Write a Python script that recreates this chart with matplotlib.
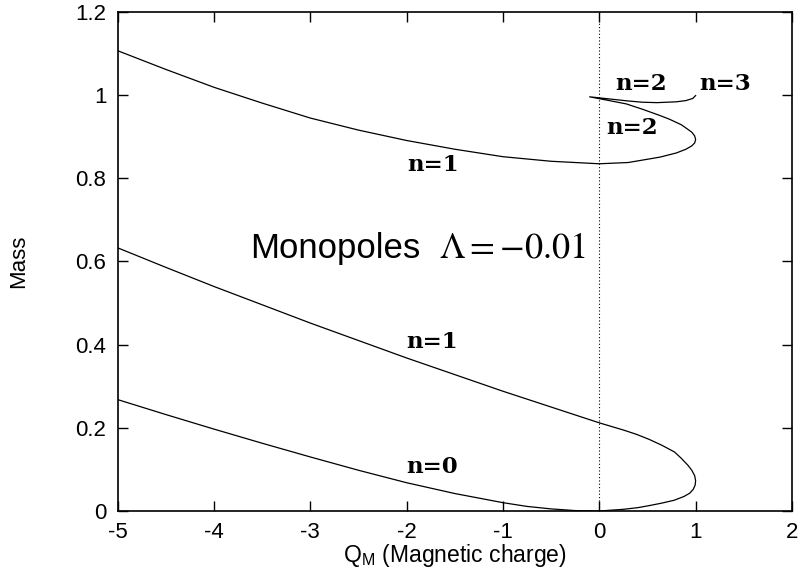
import matplotlib
matplotlib.use("Agg")
import matplotlib.pyplot as plt

plt.rcParams["font.family"] = ["Liberation Sans", "DejaVu Sans"]
plt.rcParams["mathtext.fontset"] = "stix"
plt.rcParams["axes.unicode_minus"] = False

# lower curve: n=0 branch, turning point near Q_M=1, then back up along n=1
low_x = [-5, -4.5, -4, -3.5, -3, -2.5, -2, -1.5, -1, -0.75, -0.5, -0.25, 0, 0.25, 0.4, 0.52, 0.65, 0.78,
         0.88, 0.94, 0.975, 0.995, 1.0, 0.99, 0.96, 0.92, 0.85, 0.78, 0.65, 0.52, 0.39, 0.26, 0.13, 0,
         -0.5, -1, -1.5, -2, -2.5, -3, -3.5, -4, -4.5, -5]
low_y = [0.268, 0.232, 0.197, 0.163, 0.130, 0.098, 0.068, 0.042, 0.020, 0.011, 0.005, 0.001, 0.0, 0.004, 0.008, 0.013, 0.019, 0.026,
         0.035, 0.043, 0.052, 0.062, 0.073, 0.085, 0.098, 0.110, 0.127, 0.142, 0.158, 0.172, 0.184, 0.194, 0.203, 0.212,
         0.250, 0.288, 0.328, 0.368, 0.410, 0.452, 0.496, 0.540, 0.586, 0.633]

# upper curve: n=1 branch, turning, n=2 branch, small hook towards n=3
up_x = [-5, -4.5, -4, -3.5, -3, -2.5, -2, -1.5, -1, -0.5, 0, 0.3, 0.63, 0.8, 0.9, 0.96, 0.99,
        1.0, 0.99, 0.96, 0.9, 0.85, 0.73, 0.63, 0.45, 0.28, 0.08, -0.1,
        0.1, 0.3, 0.45, 0.6, 0.8, 0.9, 0.97, 1.0]
up_y = [1.107, 1.062, 1.019, 0.981, 0.945, 0.916, 0.891, 0.870, 0.852, 0.841, 0.835, 0.838, 0.851, 0.861, 0.870, 0.878, 0.885,
        0.893, 0.902, 0.911, 0.921, 0.929, 0.942, 0.951, 0.966, 0.979, 0.988, 0.996,
        0.991, 0.986, 0.983, 0.982, 0.984, 0.987, 0.992, 0.999]

labels = ["n=2", "n=3", "n=2", "n=1", "n=1", "n=0"]
label_x = [0.43, 1.31, 0.34, -1.73, -1.74, -1.74]
label_y = [1.026, 1.026, 0.921, 0.832, 0.406, 0.106]

fig = plt.figure(figsize=(7.99, 5.71), dpi=100)
ax = fig.add_axes([0.1471, 0.1051, 0.9912 - 0.1471, 0.979 - 0.1051])

ax.plot(low_x, low_y, color="black", lw=0.9)
ax.plot(up_x, up_y, color="black", lw=0.9)
ax.plot([0, 0], [0, 1.2], color="black", lw=0.8, ls=(0, (1, 2)))

for t, x, y in zip(labels, label_x, label_y):
    ax.text(x, y, t, ha="center", va="center", family="DejaVu Serif",
            fontweight="bold", fontsize=16.5)

ax.text(-3.62, 0.632, "Monopoles", ha="left", va="center", fontsize=25)
ax.text(-1.66, 0.632, r"$\Lambda = -0.01$", ha="left", va="center", fontsize=26)

ax.set_xlim(-5, 2)
ax.set_ylim(0, 1.2)
ax.set_xticks(range(-5, 3))
ax.set_yticks([0, 0.2, 0.4, 0.6, 0.8, 1, 1.2])
ax.set_yticklabels(["0", "0.2", "0.4", "0.6", "0.8", "1", "1.2"])
ax.tick_params(direction="in", length=7, width=1, top=True, right=True,
               labelsize=16, pad=8)
for s in ax.spines.values():
    s.set_linewidth(1.2)

ax.set_xlabel(r"Q$_\mathregular{M}$ (Magnetic charge)", fontsize=16.5, labelpad=-1)
ax.set_ylabel("Mass", fontsize=16, labelpad=33)

fig.savefig("out.png", dpi=100)
